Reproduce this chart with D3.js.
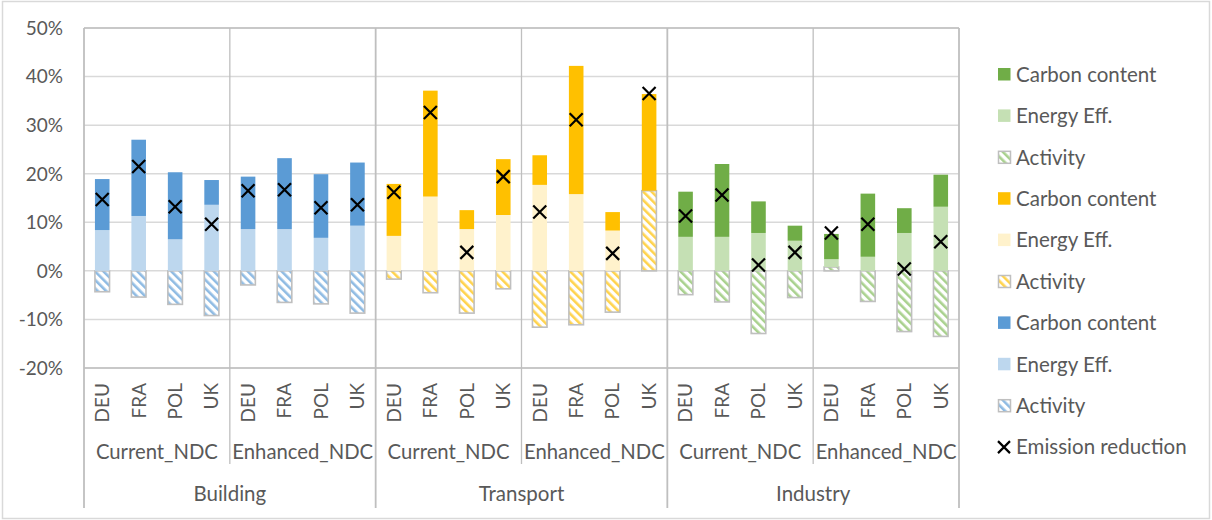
<!DOCTYPE html>
<html>
<head>
<meta charset="utf-8">
<script src="https://cdn.jsdelivr.net/npm/d3@7"></script>
<style>
  html, body { margin: 0; padding: 0; background: #fff; }
  svg { display: block; }
  text { font-family: Lato, "Open Sans", sans-serif; fill: #595959; }
</style>
</head>
<body>
<svg id="chart" width="1212" height="520"></svg>
<script>
// ---- data (percent) ----
const sectors = ["Building", "Transport", "Industry"];
const scenarios = ["Current_NDC", "Enhanced_NDC"];
const countries = ["DEU", "FRA", "POL", "UK"];

const activity = [-4.3, -5.4, -6.9, -9.2, -2.9, -6.5, -6.8, -8.7,
                  -1.7, -4.5, -8.7, -3.7, -11.6, -11.1, -8.5, 16.5,
                  -4.9, -6.4, -12.9, -5.5, 0.8, -6.3, -12.5, -13.5];
const energyEff = [8.4, 11.3, 6.5, 13.6, 8.6, 8.6, 6.8, 9.3,
                   7.2, 15.3, 8.6, 11.5, 17.7, 15.8, 8.3, 0,
                   7.0, 7.0, 7.8, 6.2, 1.6, 2.9, 7.8, 13.2];
const carbonContent = [10.5, 15.7, 13.8, 5.1, 10.8, 14.6, 13.1, 13.0,
                       10.7, 21.8, 3.9, 11.5, 6.1, 26.4, 3.8, 19.9,
                       9.3, 15.0, 6.5, 3.1, 5.2, 13.0, 5.1, 6.6];
const emissionReduction = [14.7, 21.5, 13.2, 9.6, 16.5, 16.7, 13.0, 13.6,
                           16.2, 32.6, 3.8, 19.4, 12.1, 31.1, 3.6, 36.5,
                           11.3, 15.6, 1.2, 3.8, 7.8, 9.6, 0.4, 6.0];
const yTicks = [-20, -10, 0, 10, 20, 30, 40, 50];

const ccColors = ["#5b9bd5", "#ffc000", "#70ad47"];
const eeColors = ["#bdd7ee", "#fff2cc", "#c5e0b4"];
const hatchColors = ["#8fbbe3", "#ffd34d", "#a9d18e"];

// ---- build rows ----
const rows = [];
sectors.forEach((s, si) => scenarios.forEach((sc, ci) => countries.forEach((c, ki) => {
  const i = rows.length;
  rows.push({ i, sector: s, si, scenario: sc, country: c,
    activity: activity[i], ee: energyEff[i], cc: carbonContent[i], em: emissionReduction[i] });
})));

const svg = d3.select("#chart");
const L = 84, R = 959, T = 28, B = 368;

const x = d3.scaleBand().domain(rows.map(r => r.i)).range([L, R]).paddingInner(0.6).paddingOuter(0.3);
const y = d3.scaleLinear().domain([-20, 50]).range([B, T]);
const edge = i => L + i * (R - L) / rows.length;

// outer border
svg.append("rect").attr("x", 2.5).attr("y", 1.5).attr("width", 1207).attr("height", 517)
  .attr("fill", "#fff").attr("stroke", "#d9d9d9").attr("stroke-width", 1.5);

// patterns
const defs = svg.append("defs");
sectors.forEach((s, si) => {
  const p = defs.append("pattern").attr("id", "hatch" + si).attr("patternUnits", "userSpaceOnUse")
    .attr("width", 6).attr("height", 6).attr("patternTransform", "rotate(-45)");
  p.append("rect").attr("width", 6).attr("height", 6).attr("fill", "#fff");
  p.append("rect").attr("x", 0).attr("y", 0).attr("width", 2.6).attr("height", 6).attr("fill", hatchColors[si]);
});

// gridlines
svg.append("g").selectAll("line").data(yTicks).join("line")
  .attr("x1", L).attr("x2", R).attr("y1", d => y(d)).attr("y2", d => y(d))
  .attr("stroke", "#d9d9d9").attr("stroke-width", 1.5);

// y tick labels
svg.append("g").selectAll("text").data(yTicks).join("text")
  .attr("x", 63).attr("y", d => y(d)).attr("dy", "0.36em").attr("text-anchor", "end")
  .style("font-size", "19px").text(d => d + "%");

// stacked bars
const keys = ["activity", "ee", "cc"];
const stack = d3.stack().keys(keys).offset(d3.stackOffsetDiverging)(rows);
stack.forEach(layer => {
  svg.append("g").selectAll("rect").data(layer).join("rect")
    .attr("x", d => x(d.data.i))
    .attr("width", x.bandwidth())
    .attr("y", d => y(Math.max(d[0], d[1])))
    .attr("height", d => Math.abs(y(d[0]) - y(d[1])))
    .attr("fill", d => layer.key === "activity" ? `url(#hatch${d.data.si})`
                      : layer.key === "ee" ? eeColors[d.data.si] : ccColors[d.data.si])
    .attr("stroke", layer.key === "activity" ? "#bfbfbf" : "none")
    .attr("stroke-width", 1.6);
});

// plot frame and separators
const frame = svg.append("g").attr("stroke", "#bfbfbf").attr("stroke-width", 1.5).attr("fill", "none");
frame.append("line").attr("x1", L).attr("x2", R).attr("y1", T).attr("y2", T);
frame.append("line").attr("x1", L).attr("x2", R).attr("y1", B).attr("y2", B);
for (let g = 0; g <= 6; g++) {
  const xx = edge(g * 4);
  const isSector = g % 2 === 0;
  frame.append("line").attr("x1", xx).attr("x2", xx).attr("y1", T).attr("y2", isSector ? 508 : 464)
    .attr("stroke-width", isSector ? 1.8 : 1.3);
}

// emission markers
svg.append("g").selectAll("path").data(rows).join("path")
  .attr("d", d => {
    const cx = x(d.i) + x.bandwidth() / 2, cy = y(d.em), h = 6.5;
    return `M${cx - h},${cy - h}L${cx + h},${cy + h}M${cx - h},${cy + h}L${cx + h},${cy - h}`;
  })
  .attr("stroke", "#000").attr("stroke-width", 2.2).attr("fill", "none");

// category axis labels
svg.append("g").selectAll("text").data(rows).join("text")
  .attr("transform", d => `translate(${x(d.i) + x.bandwidth() / 2},383) rotate(-90)`)
  .attr("dy", "0.36em").attr("text-anchor", "end").style("font-size", "19px")
  .text(d => d.country);

const scenGroups = d3.range(6);
svg.append("g").selectAll("text").data(scenGroups).join("text")
  .attr("x", g => (edge(g * 4) + edge(g * 4 + 4)) / 2).attr("y", 459)
  .attr("text-anchor", "middle").style("font-size", "20.3px")
  .text(g => scenarios[g % 2]);

svg.append("g").selectAll("text").data(sectors).join("text")
  .attr("x", (s, i) => (edge(i * 8) + edge(i * 8 + 8)) / 2).attr("y", 501)
  .attr("text-anchor", "middle").style("font-size", "20.5px")
  .text(s => s);

// legend
const legendItems = [];
[2, 1, 0].forEach(si => {
  legendItems.push({ label: "Carbon content", type: "cc", si });
  legendItems.push({ label: "Energy Eff.", type: "ee", si });
  legendItems.push({ label: "Activity", type: "act", si });
});
legendItems.push({ label: "Emission reduction", type: "x" });

const lg = svg.append("g").selectAll("g").data(legendItems).join("g")
  .attr("transform", (d, i) => `translate(998,${74.5 + i * 41.4})`);
lg.each(function (d) {
  const g = d3.select(this);
  if (d.type === "cc" || d.type === "ee") {
    g.append("rect").attr("x", 0).attr("y", -6.5).attr("width", 12.5).attr("height", 12.5)
      .attr("fill", d.type === "cc" ? ccColors[d.si] : eeColors[d.si]);
  } else if (d.type === "act") {
    g.append("rect").attr("x", 0.5).attr("y", -6).attr("width", 12).attr("height", 12)
      .attr("fill", `url(#hatch${d.si})`).attr("stroke", "#bfbfbf").attr("stroke-width", 1.5);
  } else {
    const h = 6;
    g.append("path").attr("d", `M${6 - h},${-h}L${6 + h},${h}M${6 - h},${h}L${6 + h},${-h}`)
      .attr("stroke", "#000").attr("stroke-width", 2.2);
  }
  g.append("text").attr("x", 18).attr("y", 0).attr("dy", "0.36em").style("font-size", "20.5px").text(d.label);
});
</script>
</body>
</html>
